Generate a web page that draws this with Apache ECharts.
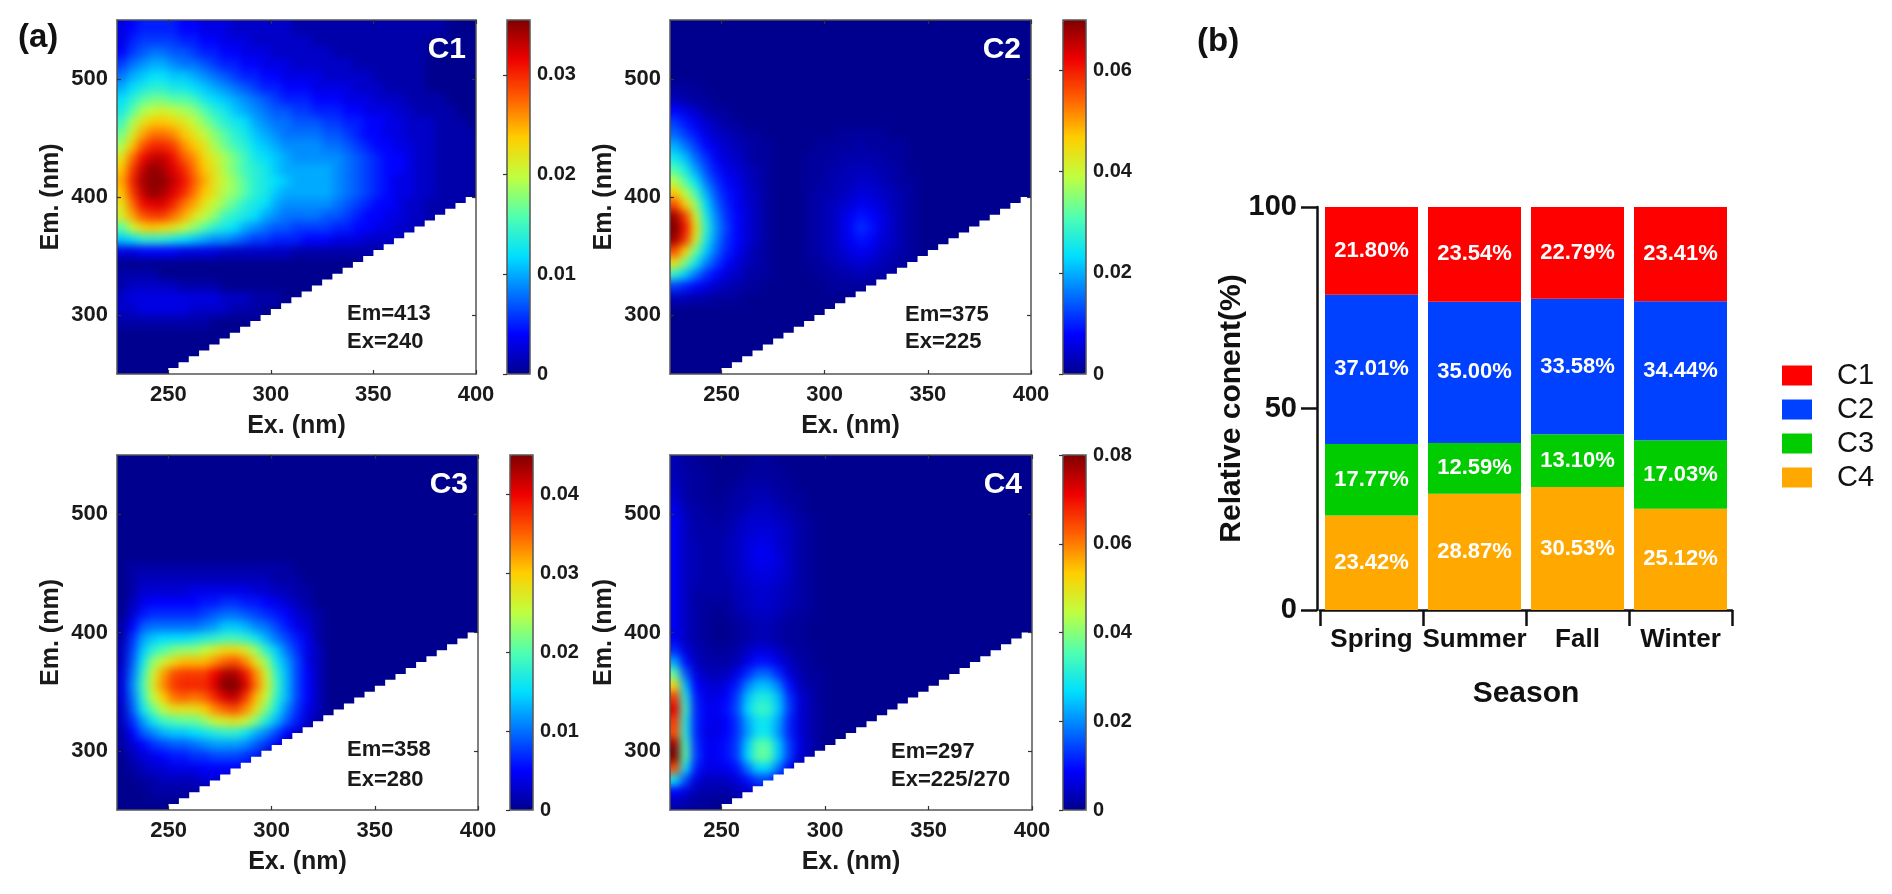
<!DOCTYPE html>
<html><head><meta charset="utf-8">
<style>
html,body{margin:0;padding:0;background:#fff}
#page{position:relative;width:1892px;height:894px;overflow:hidden}
#clip{position:absolute;left:0;top:0;width:1892px;height:894px;
 clip-path:path('M117 20h359v354h-359zM670 20h361v354h-361zM117 455h361v355h-361zM670 455h362v355h-362z')}
#heat{position:absolute;left:0;top:0;width:1892px;height:894px;filter:blur(4px)}
#c{position:absolute;left:0;top:0;width:1892px;height:894px}
</style>
<script src="https://cdn.jsdelivr.net/npm/echarts@6/dist/echarts.min.js"></script>
</head><body><div id="page"><div id="clip"><div id="heat"></div></div><div id="c"></div></div>
<script>
// Blank-region staircase (nm)
const stepEx=[250,255,260,265,270,275,280,285,290,295,300,305,310,315,320,325,330,335,340,345,350,355,360,365,370,375,380,385,390,395,400];
const stepEm=[255,260,265,270,275,280,285,290,295,300,305,310,315,320,325,330,335,340,345,350,355,360,365,370,375,380,385,390,395,400,400];
// Fluorescence, in 0.001 units. Rows run Em 545 down to 255 in 10 nm cells,
// columns run Ex 225 up to 395 in 5 nm cells; columns left out are background.
const c1=[
[3,4,5,5,5,5,4,4,3,3,3,2,2,2,2,2,2,1,1,1,1,1,1,1,1,1,1,1,1,1,1,1],
[3,5,6,6,6,6,5,5,4,4,3,3,3,2,2,2,2,2,2,1,1,1,1,1,1,1,1,1,1,1],
[4,6,7,8,8,7,7,6,5,5,4,4,3,3,3,2,2,2,2,2,2,1,1,1,1,1,1,1,1,1],
[6,8,9,10,10,9,8,8,7,6,5,5,4,4,3,3,3,2,2,2,2,2,2,1,1,1,1,1,1,1],
[8,10,11,12,12,11,11,10,9,8,7,6,5,5,4,4,3,3,3,3,2,2,2,2,2,1,1,1,1,1],
[10,12,13,14,14,13,13,12,11,10,9,8,7,6,5,5,4,4,4,3,3,3,3,2,2,2,1,1,1,1],
[12,14,16,17,17,16,16,15,13,12,11,10,9,8,7,6,5,5,5,4,4,4,3,3,3,2,2,2,1,1,1,1],
[13,16,19,20,21,20,19,18,16,14,13,11,10,9,8,7,7,6,6,5,5,5,4,4,3,3,3,2,2,1,1,1,1],
[15,19,22,24,24,23,22,20,18,16,14,13,12,10,9,8,8,7,7,7,6,6,5,5,4,4,3,3,2,2,2,1,1,1],
[17,21,25,27,27,26,24,22,20,18,16,14,13,11,10,9,8,8,8,8,7,7,6,5,4,4,3,3,2,2,2,1,1,1,1],
[19,24,28,30,30,29,26,24,22,19,17,15,14,12,11,10,9,9,9,9,8,8,7,6,5,4,4,3,3,2,2,1,1,1,1],
[22,27,31,33,33,31,28,26,23,21,19,17,15,13,12,11,10,9,9,9,9,9,8,7,6,5,4,4,3,2,2,1,1,1,1],
[24,29,33,35,34,32,30,27,24,22,19,17,15,14,13,11,10,10,10,10,10,9,8,7,6,5,4,4,3,2,2,1,1,1,1],
[25,30,34,35,35,33,31,28,25,22,20,18,16,14,13,12,11,10,10,10,10,9,8,7,6,5,4,3,3,2,2,1,1,1,1],
[24,29,33,35,34,32,30,27,24,22,19,18,16,14,13,11,10,10,10,10,10,9,8,7,6,5,4,3,3,2,2,1,1,1,1],
[22,27,31,32,32,30,27,25,22,20,18,16,14,13,12,10,9,9,9,9,9,8,7,6,5,4,4,3,2,2,1,1,1,1],
[21,25,28,29,29,27,25,22,20,18,15,14,13,12,10,9,8,8,8,8,7,7,6,5,4,4,3,3,2,2,1,1,1],
[16,20,23,24,23,22,20,18,16,14,13,12,10,9,8,7,7,6,6,6,6,5,5,4,4,3,3,2,2,1,1],
[11,12,14,14,14,13,12,11,10,9,9,8,7,6,6,5,5,5,4,4,4,3,3,3,2,2,2,2,1,1],
[3,3,4,4,4,4,3,3,3,3,2,2,2,2,2,2,2,1,1,1,1,1,1,1,1,1,1,1],
[],
[1,1,1,1],
[1,2,2,2,2,2,1,1,1,1],
[2,3,3,3,3,3,3,3,3,3,2,2,2,1,1,1],
[2,2,3,3,3,3,3,2,2,2,2,1,1,1],
[1,1,1,1,1,1,1,1,1],
[],[],[],[]
];
const c2=[
[],[],[],[],[],
[1,1,1],
[3,2,1,1],
[8,6,4,2,1,1],
[12,9,7,4,3,1,1],
[15,12,9,6,4,3,2,1,1,0,0,0,0,0,0,0,1,1,1,1,1],
[20,16,12,8,6,4,3,2,1,1,0,0,0,0,1,1,1,1,2,1,1,1,1],
[25,21,15,11,7,5,4,2,1,1,0,0,0,1,1,1,2,2,2,2,2,1,1],
[31,26,19,13,9,6,5,3,2,1,0,0,0,1,1,2,2,3,3,3,2,2,1],
[38,31,24,16,11,8,6,4,2,1,0,0,0,1,1,2,3,3,4,4,3,2,1,1],
[47,38,30,20,13,9,7,4,3,1,0,0,0,1,2,2,3,4,5,5,4,3,2,1],
[56,46,36,23,15,10,7,5,3,1,0,0,0,1,2,3,4,5,7,6,5,3,2,1],
[68,57,41,26,17,11,8,5,3,1,0,0,0,1,2,3,5,7,9,8,6,4,2,1],
[70,61,45,28,18,12,8,5,3,1,0,0,0,1,2,3,5,8,11,9,6,4,2,1],
[68,58,42,26,17,11,8,5,3,1,0,0,0,1,2,3,5,7,9,8,5,4,2,1],
[56,46,33,22,15,10,7,4,2,1,0,0,0,1,2,3,4,6,7,6,4,3,2,1],
[44,34,25,17,12,8,5,3,2,1,0,0,0,1,1,2,3,4,5,4,3,2,1,1],
[28,22,16,11,8,5,4,2,1,1,0,0,0,0,1,1,2,2,3,2,2,1,1],
[12,10,8,6,4,3,2,1,1,0,0,0,0,0,0,1,1,1,1,1,1],
[3,3,2,2,1,1,1],
[],[],[],[],[],[]
];
const c3=[
[],[],[],[],[],[],[],[],[],
[0,1,1,1,1,1,1,1,1,1,1,1,1,1,1,1,1],
[0,1,2,2,2,2,2,2,2,2,2,2,2,2,2,1,1,1],
[0,1,3,3,3,3,3,4,4,4,4,4,4,3,3,2,2,1,1],
[0,2,4,5,5,5,5,5,6,6,7,7,6,6,5,4,3,2,1],
[0,3,6,7,7,7,7,7,8,9,10,10,9,8,7,6,5,3,2,1],
[1,5,9,10,10,10,10,10,11,12,14,14,13,11,10,8,6,4,3,1],
[1,7,12,14,15,15,15,16,17,18,19,19,18,16,13,10,8,6,4,1],
[2,8,14,18,20,22,23,23,25,27,29,29,27,23,18,14,10,7,4,2],
[2,9,16,23,26,29,31,31,31,33,35,36,33,28,23,16,12,8,4,2],
[3,10,18,26,32,36,37,37,37,40,43,43,39,33,26,18,13,8,5,2],
[3,11,19,27,33,37,38,38,38,41,45,45,41,34,27,19,13,8,5,2],
[3,10,18,25,30,34,35,34,35,38,41,42,37,31,25,18,13,8,5,2],
[2,9,16,21,25,28,28,28,30,33,35,36,33,28,22,16,11,7,4,2],
[2,7,12,16,19,20,21,21,23,26,27,28,26,22,17,13,9,6,3,1],
[1,5,9,11,13,14,14,15,16,17,18,18,16,13,11,8,5,3],
[1,3,5,7,8,9,9,10,11,12,12,12,11,9,7,5],
[0,2,3,4,5,6,6,7,7,8,8,8,7,6],
[0,1,2,3,3,4,4,4,5,5,5,5,4],
[0,0,1,1,2,2,2,2,3,3,3],
[0,0,0,1,1,1,1,1,1],
[]
];
const c4=[
[3,1,1,0,0,0,0,0,1,1],
[3,2,1,1,0,0,0,1,1,1,1],
[4,2,1,1,0,0,1,2,2,2,1,1],
[5,2,1,1,0,1,2,2,3,3,2,1,1],
[7,3,2,1,1,1,2,3,4,4,3,2,1],
[8,4,2,2,1,2,3,5,5,5,4,3,2,1],
[8,4,2,2,2,2,4,5,6,6,5,4,2,1],
[8,4,3,2,2,3,4,6,7,7,5,4,2,1],
[8,4,3,2,2,3,4,6,8,8,6,4,2,1],
[8,4,3,2,2,3,4,6,7,7,6,4,2,1],
[8,4,3,2,2,2,4,5,6,6,5,4,2,1],
[8,4,2,2,2,2,3,4,5,5,4,3,2,1],
[8,4,2,1,1,1,3,4,5,5,4,3,2,1],
[8,4,2,1,0,1,2,3,4,4,3,2,1,1],
[8,4,2,1,0,0,1,2,3,3,2,1,1],
[8,4,2,1,0,0,1,2,3,3,2,1,1],
[12,6,3,2,1,1,2,4,6,6,4,2,1,1],
[22,10,4,2,2,2,3,7,10,10,7,4,2,1],
[37,16,6,4,3,4,7,12,17,17,12,6,3,1,1],
[52,24,9,6,5,7,11,19,24,24,19,10,4,2,1],
[66,31,11,7,7,9,14,24,30,30,24,13,6,3,1],
[72,34,12,8,8,10,15,26,33,33,25,14,6,3,1],
[66,31,12,8,7,9,13,22,28,28,22,12,6,3,1],
[64,31,12,7,7,9,13,21,28,28,21,12,6,3,1],
[78,35,13,8,8,10,14,25,36,36,25,14,7,3,1],
[80,36,14,8,8,10,14,26,37,37,25,14,6,3],
[64,28,11,7,7,8,10,18,26,26,18,9],
[28,15,6,4,4,4,6,10,14,14,9],
[9,6,3,2,2,2,3,4,5,5],
[3,2,1,1,0,1,1]
];
// Panel (b)
const seasons=['Spring','Summer','Fall','Winter'];
const shareC1=[21.80,23.54,22.79,23.41];
const shareC2=[37.01,35.00,33.58,34.44];
const shareC3=[17.77,12.59,13.10,17.03];
const shareC4=[23.42,28.87,30.53,25.12];

const FONT='"Liberation Sans",Arial,sans-serif';
const INK='#1a1a1a',FRAME='#555';
const JET=['#00008f','#0000ff','#0070ff','#00dfff','#50ffb0','#bfff40','#ffcf00','#ff6000','#ef0000','#800000'];
const COLS=35,ROWS=30,PAD=2;
const panels=[
 {name:'C1',rows:c1,max:.0355,ticks:[0,.01,.02,.03],l:117,t:20,w:359,h:354,bl:507,bw:23,note:['Em=413','Ex=240'],nx:347,ny:[314,342]},
 {name:'C2',rows:c2,max:.07,ticks:[0,.02,.04,.06],l:670,t:20,w:361,h:354,bl:1063,bw:23,note:['Em=375','Ex=225'],nx:905,ny:[315,342]},
 {name:'C3',rows:c3,max:.045,ticks:[0,.01,.02,.03,.04],l:117,t:455,w:361,h:355,bl:510,bw:23,note:['Em=358','Ex=280'],nx:347,ny:[750,780]},
 {name:'C4',rows:c4,max:.08,ticks:[0,.02,.04,.06,.08],l:670,t:455,w:362,h:355,bl:1063,bw:23,note:['Em=297','Ex=225/270'],nx:891,ny:[752,780]}
];
// Heat layer: the cells, softened by the CSS filter above. PAD repeats edge cells outside the clip so the edges stay true.
const hGrid=[],hX=[],hY=[],hSeries=[],hVisual=[];
const clampIdx=(i,n)=>Math.max(0,Math.min(n-1,i));
const bandLabels=n=>Array.from({length:n},(_,i)=>String(i));
panels.forEach((p,k)=>{
  const cw=p.w/COLS,ch=p.h/ROWS;
  hGrid.push({left:p.l-PAD*cw,top:p.t-PAD*ch,width:p.w+2*PAD*cw,height:p.h+2*PAD*ch,show:true,backgroundColor:JET[0],borderWidth:0});
  hX.push({type:'category',gridIndex:k,data:bandLabels(COLS+2*PAD),show:false});
  hY.push({type:'category',gridIndex:k,data:bandLabels(ROWS+2*PAD),inverse:true,show:false});
  const cells=[];
  for(let j=-PAD;j<ROWS+PAD;j++){
    const r=p.rows[clampIdx(j,ROWS)];
    for(let i=-PAD;i<r.length;i++) cells.push([i+PAD,j+PAD,r[Math.max(0,i)]/1000]);
  }
  hSeries.push({type:'heatmap',xAxisIndex:k,yAxisIndex:k,data:cells,silent:true,progressive:0});
  hVisual.push({type:'continuous',seriesIndex:k,dimension:2,min:0,max:p.max,show:false,inRange:{color:JET}});
});
const heat=echarts.init(document.getElementById('heat'),null,{width:1892,height:894,renderer:'canvas'});
heat.setOption({animation:false,tooltip:{show:false},grid:hGrid,xAxis:hX,yAxis:hY,series:hSeries,visualMap:hVisual});

// Axes, colour bars, blank regions, panel (b), all text
const grid=[],xAxis=[],yAxis=[],series=[],visualMap=[],graphic=[];
const lab=(s,b=true)=>({fontFamily:FONT,fontWeight:b?'bold':'normal',fontSize:s,color:INK});
const line={show:true,onZero:false,lineStyle:{color:FRAME,width:1.5}};
const tick=(v)=>({show:true,inside:true,length:4,customValues:v,lineStyle:{color:'#333',width:1.2}});
const emT=[300,400,500],exT=[250,300,350,400];
panels.forEach(p=>{
  const g=grid.length;
  grid.push({left:p.l,top:p.t,width:p.w,height:p.h});
  const xVal=xAxis.length;
  xAxis.push({type:'value',gridIndex:g,min:225,max:400,position:'bottom',z:6,splitLine:{show:false},axisLine:line,axisTick:tick(exT),
    axisLabel:{...lab(22),margin:10,customValues:exT},
    name:'Ex. (nm)',nameLocation:'middle',nameGap:40,nameTextStyle:lab(25)});
  xAxis.push({type:'value',gridIndex:g,min:225,max:400,position:'top',z:6,splitLine:{show:false},axisLine:line,axisTick:tick(exT),axisLabel:{show:false}});
  const yVal=yAxis.length;
  yAxis.push({type:'value',gridIndex:g,min:250,max:550,position:'left',z:6,splitLine:{show:false},axisLine:line,axisTick:tick(emT),
    axisLabel:{...lab(22),margin:9,customValues:emT},
    name:'Em. (nm)',nameLocation:'middle',nameGap:53,nameTextStyle:lab(25)});
  yAxis.push({type:'value',gridIndex:g,min:250,max:550,position:'right',z:6,splitLine:{show:false},axisLine:line,axisTick:tick(emT),axisLabel:{show:false}});
  series.push({type:'line',xAxisIndex:xVal,yAxisIndex:yVal,data:stepEx.map((x,i)=>[x,stepEm[i]]),step:'end',showSymbol:false,silent:true,z:3,
    lineStyle:{width:0},itemStyle:{color:'#fff'},areaStyle:{color:'#fff',opacity:1,origin:'start'}});
  const gb=grid.length;
  grid.push({left:p.bl,top:p.t,width:p.bw,height:p.h,show:true,backgroundColor:'transparent',borderColor:FRAME,borderWidth:1.5,z:10});
  xAxis.push({type:'value',gridIndex:gb,min:0,max:1,show:false});
  yAxis.push({type:'value',gridIndex:gb,min:0,max:p.max,position:'right',z:11,splitLine:{show:false},
    axisLine:{show:false},axisTick:tick(p.ticks),
    axisLabel:{...lab(20),margin:7,customValues:p.ticks,formatter:v=>String(v)}});
  visualMap.push({type:'continuous',seriesIndex:[],dimension:2,min:0,max:p.max,show:true,left:p.bl,top:p.t,itemWidth:p.bw,itemHeight:p.h,
    padding:0,text:null,calculable:false,hoverLink:false,realtime:false,z:1,inRange:{color:JET},textStyle:{color:'transparent',fontSize:1}});
  graphic.push({type:'text',x:p.l+p.w-10,y:p.t+30,z:20,silent:true,style:{text:p.name,fill:'#fff',font:'bold 30px '+FONT,align:'right',verticalAlign:'middle'}});
  p.note.forEach((s,n)=>graphic.push({type:'text',x:p.nx,y:p.ny[n],z:20,silent:true,style:{text:s,fill:INK,font:'bold 22px '+FONT,align:'left',verticalAlign:'middle'}}));
});
const gB=grid.length;
grid.push({left:1320,top:207,width:412,height:403});
const xB=xAxis.length,yB=yAxis.length;
xAxis.push({type:'category',gridIndex:gB,data:seasons,offset:3,
  axisLine:{show:true,lineStyle:{color:'#111',width:2.5}},
  axisTick:{show:true,alignWithLabel:false,length:16,lineStyle:{color:'#111',width:2.5}},
  axisLabel:{...lab(26),color:'#111',margin:14,interval:0},
  name:'Season',nameLocation:'middle',nameGap:66,nameTextStyle:{...lab(30),color:'#111'}});
yAxis.push({type:'value',gridIndex:gB,min:0,max:100,interval:50,offset:3,position:'left',splitLine:{show:false},
  axisLine:{show:true,lineStyle:{color:'#111',width:2.5}},
  axisTick:{show:true,length:16,lineStyle:{color:'#111',width:2.5}},
  axisLabel:{...lab(29),color:'#111',margin:20},
  name:'Relative conent(%)',nameLocation:'middle',nameGap:70,nameMoveOverlap:false,nameTextStyle:{...lab(30),color:'#111'}});
[['C4',shareC4,'#ffa800'],['C3',shareC3,'#00cc00'],['C2',shareC2,'#0040ff'],['C1',shareC1,'#ff0000']].forEach(([n,d,c])=>{
  series.push({type:'bar',name:n,xAxisIndex:xB,yAxisIndex:yB,stack:'s',data:d,barWidth:93,itemStyle:{color:c},silent:true,
    label:{show:true,position:'inside',formatter:o=>o.value.toFixed(2)+'%',fontFamily:FONT,fontWeight:'bold',fontSize:22,color:'#fff'}});
});
graphic.push({type:'text',x:18,y:38,z:20,silent:true,style:{text:'(a)',fill:'#111',font:'bold 33px '+FONT,align:'left',verticalAlign:'middle'}});
graphic.push({type:'text',x:1197,y:42,z:20,silent:true,style:{text:'(b)',fill:'#111',font:'bold 33px '+FONT,align:'left',verticalAlign:'middle'}});
const chart=echarts.init(document.getElementById('c'),null,{width:1892,height:894,renderer:'canvas'});
chart.setOption({animation:false,backgroundColor:'transparent',tooltip:{show:false},grid,xAxis,yAxis,series,visualMap,graphic,
  legend:{data:['C1','C2','C3','C4'],orient:'vertical',left:1777,top:356,icon:'rect',itemWidth:30,itemHeight:20,itemGap:5,selectedMode:false,
    textStyle:{fontFamily:FONT,fontSize:29,color:'#111',padding:[0,0,0,20]}}});
</script></body></html>
